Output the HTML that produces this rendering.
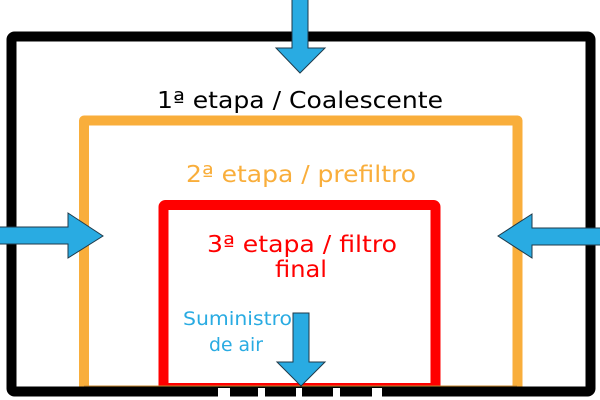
<!DOCTYPE html>
<html><head><meta charset="utf-8"><style>html,body{margin:0;padding:0;background:#fff}svg{display:block}</style></head>
<body>
<svg width="600" height="400" viewBox="0 0 600 400" xmlns="http://www.w3.org/2000/svg" font-family="'DejaVu Sans','Liberation Sans',sans-serif">
<path d="M84 390 V120.5 H517.5 V390" fill="none" stroke="#F9AE3B" stroke-width="10" stroke-linejoin="round"/>
<rect x="163.5" y="205" width="272" height="183" rx="2" fill="none" stroke="#FF0000" stroke-width="10"/>
<rect x="11.5" y="36.5" width="579" height="355" rx="3" fill="none" stroke="#000" stroke-width="10"/>
<line x1="84" y1="386" x2="517" y2="386" stroke="#C98A30" stroke-width="1"/>
<g fill="#fff">
<rect x="218" y="388" width="12" height="12"/>
<rect x="258" y="388" width="7" height="12"/>
<rect x="296" y="388" width="6" height="12"/>
<rect x="333" y="388" width="7" height="12"/>
<rect x="372" y="388" width="10" height="12"/>
</g>
<g fill="#29ABE2" stroke="#1F3A4A" stroke-width="1">
<path d="M292 -1 H308 V48 H325 L300 73 L276 48 H292 Z"/>
<path d="M293 313 H309 V362 H325 L301 386 L277 362 H293 Z"/>
<path d="M-1 227 H68 V213 L103 236 L68 258 V244 H-1 Z"/>
<path d="M601 228 H532 V214 L498 236 L532 258 V245 H601 Z"/>
</g>
<text x="157" y="108" font-size="23" fill="#000" textLength="286" lengthAdjust="spacingAndGlyphs">1ª etapa / Coalescente</text>
<text x="186" y="182" font-size="23" fill="#F9AE3B" textLength="230" lengthAdjust="spacingAndGlyphs">2ª etapa / prefiltro</text>
<text x="207" y="252" font-size="23" fill="#FF0000" textLength="190" lengthAdjust="spacingAndGlyphs">3ª etapa / filtro</text>
<text x="275" y="277" font-size="23" fill="#FF0000" textLength="52" lengthAdjust="spacingAndGlyphs">final</text>
<text x="183" y="325" font-size="19" fill="#29ABE2" textLength="109" lengthAdjust="spacingAndGlyphs">Suministro</text>
<text x="209" y="351" font-size="19" fill="#29ABE2" textLength="54" lengthAdjust="spacingAndGlyphs">de air</text>
</svg>
</body></html>
